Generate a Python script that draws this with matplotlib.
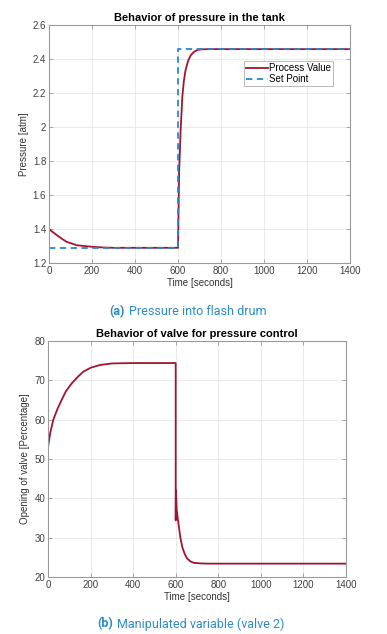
import matplotlib
matplotlib.use('Agg')
import matplotlib.pyplot as plt

# values
pv_t = [0, 0.5, 15, 36, 60, 82, 130, 199, 250, 300, 600, 603, 605, 612, 620, 627,
        635, 647, 658, 672, 689, 710, 750, 1400]
pv_p = [1.30, 1.40, 1.385, 1.365, 1.343, 1.325, 1.305, 1.296, 1.292, 1.29, 1.29, 1.55,
        1.73, 1.98, 2.178, 2.27, 2.335, 2.39, 2.42, 2.44, 2.453, 2.457, 2.458, 2.458]
sp_t = [0, 600, 600, 1400]
sp_p = [1.288, 1.288, 2.459, 2.459]

valve_t = [0, 0.5, 10, 25, 45, 64, 85, 111, 140, 166, 200, 244, 300, 400, 600, 600,
           601, 605, 615, 622, 631, 642, 654, 668, 685, 720, 760, 1400]
valve_v = [50.2, 53.1, 56.5, 60.0, 62.8, 65.0, 67.3, 69.2, 70.9, 72.2, 73.2, 73.9, 74.3,
           74.4, 74.4, 34.4, 42.0, 37.0, 32.7, 30.0, 27.6, 25.9, 24.7, 24.0, 23.6, 23.45,
           23.4, 23.4]

xticks = [0, 200, 400, 600, 800, 1000, 1200, 1400]

red = '#a2142f'
blue = '#2b87d1'
cap_col = '#2d8bc7'

plt.rcParams['font.family'] = ['Liberation Sans', 'DejaVu Sans']

fig = plt.figure(figsize=(3.87, 6.34), dpi=100)
ax1 = fig.add_axes([0.1266, 0.585, 0.778, 0.3756])
ax2 = fig.add_axes([0.124, 0.0899, 0.770, 0.3722])


def style(ax):
    ax.grid(True, color='#e6e6e6', linewidth=0.6)
    ax.set_axisbelow(True)
    for s in ax.spines.values():
        s.set_color('#9a9a9a')
        s.set_linewidth(0.8)
    ax.tick_params(direction='in', top=True, right=True, length=3, width=0.6,
                   color='#9a9a9a', labelsize=7, labelcolor='#404040', pad=2)
    ax.set_xlim(0, 1400)
    ax.set_xticks(xticks)
    ax.set_xlabel('Time [seconds]', fontsize=7, color='#333333', labelpad=1.5)


ax1.plot(pv_t, pv_p, color=red, linewidth=1.3, label='Process Value')
ax1.plot(sp_t, sp_p, color=blue, linewidth=1.3, linestyle=(0, (3.5, 2.5)), label='Set Point')
style(ax1)
ax1.set_ylim(1.2, 2.6)
ax1.set_yticks([1.2, 1.4, 1.6, 1.8, 2.0, 2.2, 2.4, 2.6])
ax1.set_yticklabels(['1.2', '1.4', '1.6', '1.8', '2', '2.2', '2.4', '2.6'])
ax1.set_ylabel('Pressure [atm]', fontsize=7, color='#333333', labelpad=3)
ax1.set_title('Behavior of pressure in the tank', fontsize=8, fontweight='bold', pad=3)
leg = ax1.legend(loc='upper right', bbox_to_anchor=(0.944, 0.848), fontsize=7,
                 fancybox=False, edgecolor='#9a9a9a', handlelength=2.2,
                 borderpad=0.2, labelspacing=0.12, handletextpad=0.15, borderaxespad=0)
leg.get_frame().set_linewidth(0.6)

ax2.plot(valve_t, valve_v, color=red, linewidth=1.3)
style(ax2)
ax2.set_ylim(20, 80)
ax2.set_yticks([20, 30, 40, 50, 60, 70, 80])
ax2.set_ylabel('Opening of valve [Percentage]', fontsize=7, color='#333333', labelpad=3)
ax2.set_title('Behavior of valve for pressure control', fontsize=8, fontweight='bold', pad=3)

fig.text(0.322, 0.508, '(a)', fontsize=9.0, fontweight='bold', color=cap_col,
         ha='right', va='center', family='Roboto')
fig.text(0.333, 0.508, 'Pressure into flash drum', fontsize=9.0, color=cap_col,
         ha='left', va='center', family='Roboto')
fig.text(0.292, 0.016, '(b)', fontsize=9.0, fontweight='bold', color=cap_col,
         ha='right', va='center', family='Roboto')
fig.text(0.303, 0.016, 'Manipulated variable (valve 2)', fontsize=9.0, color=cap_col,
         ha='left', va='center', family='Roboto')

plt.savefig('out.png', dpi=100)
